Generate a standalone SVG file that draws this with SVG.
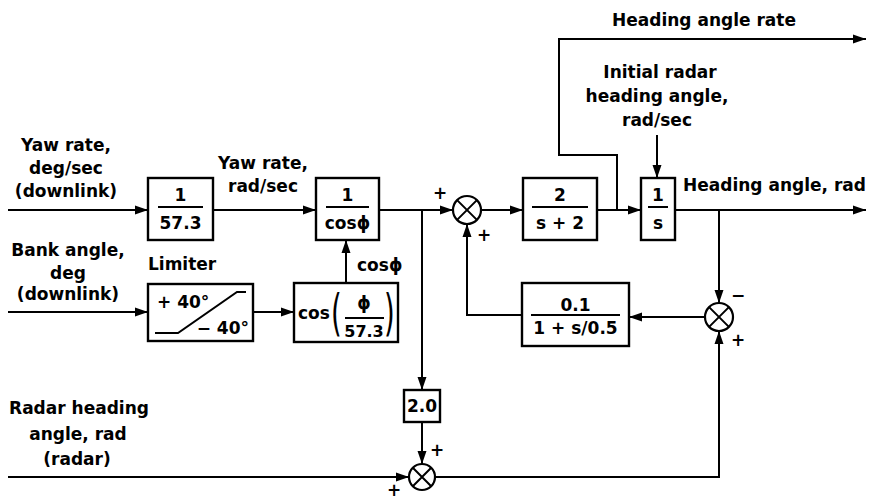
<svg xmlns="http://www.w3.org/2000/svg" width="870" height="499" viewBox="0 0 870 499">
<defs>
<marker id="ah" markerUnits="userSpaceOnUse" markerWidth="13" markerHeight="10" refX="13" refY="5" orient="auto">
<path d="M0,0.5 L13,5 L0,9.5 z" fill="#000"/>
</marker>
<style>
text{font-family:"DejaVu Sans","Liberation Sans",Arial,sans-serif;font-weight:bold;font-size:17px;fill:#000}
.c{text-anchor:middle}
.box{fill:#fff;stroke:#000;stroke-width:2.4}
.ln{fill:none;stroke:#000;stroke-width:2}
.fr{stroke:#000;stroke-width:2}
.sum{fill:#fff;stroke:#000;stroke-width:2.2}
.par{font-weight:normal;font-size:50px}
</style>
</defs>
<rect width="870" height="499" fill="#fff"/>

<g id="connectors">
<line class="ln" x1="8" y1="210" x2="148" y2="210" marker-end="url(#ah)"/>
<line class="ln" x1="213" y1="210" x2="316" y2="210" marker-end="url(#ah)"/>
<line class="ln" x1="379" y1="210" x2="453" y2="210" marker-end="url(#ah)"/>
<line class="ln" x1="481" y1="210" x2="523" y2="210" marker-end="url(#ah)"/>
<line class="ln" x1="597" y1="210" x2="641" y2="210" marker-end="url(#ah)"/>
<line class="ln" x1="675" y1="210" x2="866" y2="210" marker-end="url(#ah)"/>
<polyline class="ln" points="617,210 617,155 559,155 559,39 866,39" marker-end="url(#ah)"/>
<line class="ln" x1="657" y1="135" x2="657" y2="178" marker-end="url(#ah)"/>
<line class="ln" x1="719" y1="210" x2="719" y2="303" marker-end="url(#ah)"/>
<line class="ln" x1="705" y1="317" x2="629" y2="317" marker-end="url(#ah)"/>
<polyline class="ln" points="522,315 467,315 467,224" marker-end="url(#ah)"/>
<line class="ln" x1="422" y1="210" x2="422" y2="390" marker-end="url(#ah)"/>
<line class="ln" x1="422" y1="422" x2="422" y2="464" marker-end="url(#ah)"/>
<line class="ln" x1="8" y1="477" x2="409" y2="477" marker-end="url(#ah)"/>
<polyline class="ln" points="435,477 719,477 719,331" marker-end="url(#ah)"/>
<line class="ln" x1="8" y1="312" x2="148" y2="312" marker-end="url(#ah)"/>
<line class="ln" x1="253" y1="312" x2="294" y2="312" marker-end="url(#ah)"/>
<line class="ln" x1="346" y1="283" x2="346" y2="240" marker-end="url(#ah)"/>
</g>

<g id="labels">
<text class="c" x="66" y="151">Yaw rate,</text>
<text class="c" x="66" y="174">deg/sec</text>
<text class="c" x="66" y="197">(downlink)</text>
<text class="c" x="263" y="169">Yaw rate,</text>
<text class="c" x="263" y="192">rad/sec</text>
<text class="c" x="68" y="256">Bank angle,</text>
<text class="c" x="68" y="279">deg</text>
<text class="c" x="68" y="300">(downlink)</text>
<text x="148" y="270">Limiter</text>
<text x="357" y="271">cosϕ</text>
<text x="612" y="26">Heading angle rate</text>
<text class="c" x="660" y="78">Initial radar</text>
<text class="c" x="657" y="102">heading angle,</text>
<text class="c" x="657" y="126">rad/sec</text>
<text x="683" y="191">Heading angle, rad</text>
<text class="c" x="79" y="414">Radar heading</text>
<text class="c" x="78" y="440">angle, rad</text>
<text class="c" x="77" y="465">(radar)</text>
<text class="c" x="440" y="199">+</text>
<text class="c" x="484" y="241">+</text>
<text class="c" x="738" y="301">−</text>
<text class="c" x="738" y="346">+</text>
<text class="c" x="437" y="456">+</text>
<text class="c" x="394" y="496">+</text>
</g>

<g id="gain-57">
<rect class="box" x="148" y="178" width="65" height="62"/>
<text class="c" x="180.5" y="201">1</text>
<line class="fr" x1="158" y1="207" x2="203" y2="207"/>
<text class="c" x="180.5" y="229">57.3</text>
</g>

<g id="inv-cos">
<rect class="box" x="316" y="178" width="63" height="62"/>
<text class="c" x="347.5" y="201">1</text>
<line class="fr" x1="326" y1="207" x2="369" y2="207"/>
<text class="c" x="347.5" y="229">cosϕ</text>
</g>

<g id="filter">
<rect class="box" x="523" y="178" width="74" height="62"/>
<text class="c" x="560" y="201">2</text>
<line class="fr" x1="532" y1="207" x2="588" y2="207"/>
<text class="c" x="560" y="229">s + 2</text>
</g>

<g id="integrator">
<rect class="box" x="641" y="178" width="34" height="62"/>
<text class="c" x="658" y="201">1</text>
<line class="fr" x1="648" y1="207" x2="668" y2="207"/>
<text class="c" x="658" y="229">s</text>
</g>

<g id="limiter">
<rect class="box" x="148" y="284" width="105" height="57"/>
<polyline class="ln" points="155,333 178,333 237,292 246,292"/>
<text x="157" y="308">+ 40°</text>
<text x="249" y="334" style="text-anchor:end">− 40°</text>
</g>

<g id="cos-block">
<rect class="box" x="294" y="283" width="104" height="59"/>
<text x="298" y="319">cos</text>
<text class="par" transform="translate(331,330) scale(0.55,1)">(</text>
<text class="c" x="364" y="309">ϕ</text>
<line class="fr" x1="345" y1="318" x2="384" y2="318"/>
<text class="c" x="364" y="337" style="font-size:16px">57.3</text>
<text class="par" transform="translate(384,330) scale(0.55,1)">)</text>
</g>

<g id="lag">
<rect class="box" x="522" y="283" width="107" height="63"/>
<text class="c" x="575.5" y="311">0.1</text>
<line class="fr" x1="531" y1="315" x2="620" y2="315"/>
<text class="c" x="575.5" y="334">1 + s/0.5</text>
</g>

<g id="gain-2">
<rect class="box" x="404" y="390" width="36" height="32"/>
<text class="c" x="422" y="412">2.0</text>
</g>

<g id="sum1">
<circle class="sum" cx="467" cy="210" r="14"/>
<path class="fr" d="M457.1,200.1 L476.9,219.9 M476.9,200.1 L457.1,219.9"/>
</g>
<g id="sum2">
<circle class="sum" cx="719" cy="317" r="14"/>
<path class="fr" d="M709.1,307.1 L728.9,326.9 M728.9,307.1 L709.1,326.9"/>
</g>
<g id="sum3">
<circle class="sum" cx="422" cy="477" r="13"/>
<path class="fr" d="M412.8,467.8 L431.2,486.2 M431.2,467.8 L412.8,486.2"/>
</g>
</svg>
